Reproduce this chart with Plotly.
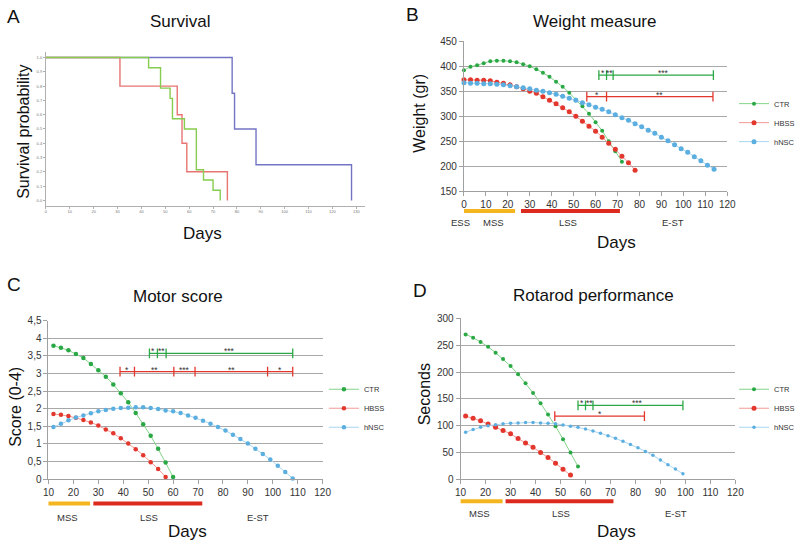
import plotly.graph_objects as go

# ---- A: survival (Kaplan-Meier steps) ----
surv_days_ctr = [0, 43, 48, 52, 53, 58, 63, 66, 70, 73]
surv_prob_ctr = [1, 0.929, 0.786, 0.714, 0.571, 0.5, 0.214, 0.143, 0.071, 0]
surv_days_hbss = [0, 31, 55, 57, 59, 76]
surv_prob_hbss = [1, 0.8, 0.6, 0.4, 0.2, 0]
surv_days_hnsc = [0, 78, 79, 88, 128]
surv_prob_hnsc = [1, 0.75, 0.5, 0.25, 0]

# ---- B: weight ----
w_days_ctr = list(range(0, 73, 3))
w_ctr = [392, 399, 402, 406, 410, 411, 411, 410, 408, 404, 400, 394, 387, 379, 369,
         359, 347, 333, 320, 305, 288, 271, 250, 230, 209]
w_days_hbss = list(range(0, 79, 3))
w_hbss = [373, 373, 372, 372, 371, 368, 366, 363, 359, 355, 350, 346, 339, 332, 325,
          317, 309, 300, 290, 280, 270, 258, 246, 234, 220, 207, 192]
w_days_hnsc = list(range(0, 115, 3))
w_hnsc = [367, 366, 366, 365, 365, 364, 363, 361, 359, 357, 355, 352, 350, 347, 344,
          340, 336, 332, 327, 323, 318, 314, 309, 303, 297, 292, 285, 279, 272, 266,
          258, 251, 243, 235, 228, 219, 211, 202, 194]

# ---- C: motor score ----
m_days_ctr = list(range(12, 61, 3))
m_ctr = [3.79, 3.73, 3.66, 3.55, 3.44, 3.27, 3.09, 2.91, 2.69, 2.44, 2.18, 1.88, 1.56,
         1.23, 0.86, 0.47, 0.06]
m_days_hbss = list(range(12, 58, 3))
m_hbss = [1.85, 1.83, 1.79, 1.74, 1.68, 1.61, 1.52, 1.41, 1.30, 1.16, 1.01, 0.85, 0.68,
          0.48, 0.29, 0.06]
m_days_hnsc = list(range(12, 109, 3))
m_hnsc = [1.48, 1.57, 1.67, 1.75, 1.81, 1.87, 1.93, 1.96, 2.00, 2.02, 2.03, 2.04, 2.04,
          2.02, 1.99, 1.95, 1.93, 1.88, 1.81, 1.74, 1.66, 1.57, 1.48, 1.38, 1.26, 1.14,
          1.01, 0.86, 0.71, 0.56, 0.38, 0.20, 0.02]

# ---- D: rotarod ----
r_days_ctr = list(range(12, 58, 3))
r_ctr = [270, 264, 256, 247, 236, 224, 211, 196, 179, 161, 142, 121, 99, 75, 50, 24]
r_days_hbss = list(range(12, 55, 3))
r_hbss = [118, 114, 109, 103, 97, 91, 85, 76, 68, 60, 50, 41, 30, 19, 8]
r_days_hnsc = list(range(12, 100, 3))
r_hnsc = [88, 93, 97, 100, 102, 103.5, 104.5, 105, 106, 106, 105, 104.5, 103.5, 101.5,
          99, 97, 94, 90, 86, 81.5, 76.5, 71, 65, 59, 52, 45, 36, 27.5, 19.5, 10.5]

# ---- significance bars: (level, tick days, star labels) ----
sig_b_ctr = (382, [61.5, 65, 68, 113.7], ["*", "**", "***"])
sig_b_hbss = (339, [56, 65, 113.5], ["*", "**"])
sig_c_ctr = (3.57, [50.5, 53.7, 57.2, 108], ["*", "**", "***"])
sig_c_hbss = (3.05, [38.7, 44.5, 60.3, 68.8, 97.9, 108], ["*", "**", "***", "**", "*"])
sig_d_ctr = (138, [57, 60, 63, 99], ["*", "**", "***"])
sig_d_hbss = (118, [47.7, 83.6], ["*"])

# ---- disease stages (start, end) in days ----
stages_b = [(0, 23.3), (26, 71.1)]
stages_c = [(9, 26.7), (28, 71.7)]
stages_d = [(9.1, 26.8), (28, 71.2)]
stage_labels_b = [("ESS", 463), ("MSS", 497), ("LSS", 573), ("E-ST", 680)]
stage_labels_c = [("MSS", 63), ("LSS", 146), ("E-ST", 257)]
stage_labels_d = [("MSS", 483), ("LSS", 566), ("E-ST", 683)]

W, H = 800, 548
FONT = "Arial, Liberation Sans, sans-serif"
GREEN_M, GREEN_L = "#2aa845", "#84d488"
RED_M, RED_L = "#e3362c", "#f29a94"
BLUE_M, BLUE_L = "#5aaee0", "#a8d5f2"
STAGE_COLS = ["#f5b51e", "#dc2a1e"]


def px(x):
    return x / W


def py(y):
    return 1 - y / H


fig = go.Figure()

# panel A
for d, p, c in [(surv_days_hnsc, surv_prob_hnsc, "#7474c4"),
                (surv_days_hbss, surv_prob_hbss, "#e87474"),
                (surv_days_ctr, surv_prob_ctr, "#86cc4e")]:
    fig.add_trace(go.Scatter(x=d, y=p, mode="lines", line=dict(color=c, width=1.4, shape="hv"),
                             showlegend=False, xaxis="x", yaxis="y", hoverinfo="skip"))


def add_series(ax, ay, leg, days, vals, name, mc, lc, ms):
    fig.add_trace(go.Scatter(x=days, y=vals, mode="lines+markers", name=name,
                             line=dict(color=lc, width=1), marker=dict(color=mc, size=ms),
                             xaxis=ax, yaxis=ay, legend=leg, cliponaxis=False))


def add_sig(ax, ay, sig, color):
    level, ticks, labels = sig
    fig.add_trace(go.Scatter(x=ticks, y=[level] * len(ticks), mode="lines+markers",
                             line=dict(color=color, width=1.3),
                             marker=dict(symbol="line-ns", size=7, line=dict(width=1.3, color=color)),
                             showlegend=False, xaxis=ax, yaxis=ay, hoverinfo="skip"))
    for i, lab in enumerate(labels):
        fig.add_annotation(x=(ticks[i] + ticks[i + 1]) / 2, y=level, xref=ax, yref=ay, text=lab,
                           showarrow=False, xanchor="center", yanchor="middle", yshift=2,
                           font=dict(size=8.5, color="#333", family=FONT))


# panel B
add_series("x2", "y2", "legend", w_days_ctr, w_ctr, "CTR", GREEN_M, GREEN_L, 4)
add_series("x2", "y2", "legend", w_days_hbss, w_hbss, "HBSS", RED_M, RED_L, 5)
add_series("x2", "y2", "legend", w_days_hnsc, w_hnsc, "hNSC", BLUE_M, BLUE_L, 5)
add_sig("x2", "y2", sig_b_ctr, GREEN_M)
add_sig("x2", "y2", sig_b_hbss, RED_M)

# panel C
add_series("x3", "y3", "legend2", m_days_ctr, m_ctr, "CTR", GREEN_M, GREEN_L, 4.5)
add_series("x3", "y3", "legend2", m_days_hbss, m_hbss, "HBSS", RED_M, RED_L, 4.5)
add_series("x3", "y3", "legend2", m_days_hnsc, m_hnsc, "hNSC", BLUE_M, BLUE_L, 4.5)
add_sig("x3", "y3", sig_c_ctr, GREEN_M)
add_sig("x3", "y3", sig_c_hbss, RED_M)

# panel D
add_series("x4", "y4", "legend3", r_days_ctr, r_ctr, "CTR", GREEN_M, GREEN_L, 4)
add_series("x4", "y4", "legend3", r_days_hbss, r_hbss, "HBSS", RED_M, RED_L, 5)
add_series("x4", "y4", "legend3", r_days_hnsc, r_hnsc, "hNSC", BLUE_M, BLUE_L, 3.5)
add_sig("x4", "y4", sig_d_ctr, GREEN_M)
add_sig("x4", "y4", sig_d_hbss, RED_M)

# stage bars under the x axes
for ax, stages, ypix in [("x2", stages_b, 209.5), ("x3", stages_c, 508.7), ("x4", stages_d, 506.3)]:
    for (s, e), col in zip(stages, STAGE_COLS):
        fig.add_shape(type="line", xref=ax, yref="paper", x0=s, x1=e, y0=py(ypix), y1=py(ypix),
                      line=dict(color=col, width=4))

for labels, ypix in [(stage_labels_b, 221.5), (stage_labels_c, 523.3), (stage_labels_d, 519.3)]:
    for txt, xp in labels:
        fig.add_annotation(x=px(xp), y=py(ypix), xref="paper", yref="paper", text=txt,
                           showarrow=False, xanchor="center", yanchor="middle",
                           font=dict(size=9.5, color="#333", family=FONT))

# titles, panel letters, axis titles
texts = [
    ("A", 8, 11, 19, 0), ("Survival", 177, 16, 17, 0),
    ("Survival probability", 18, 129, 16, -90), ("Days", 200, 233, 17, 0),
    ("B", 414, 9, 19, 0), ("Weight measure", 600, 16, 17, 0),
    ("Weight (gr)", 421, 110, 16, -90), ("Days", 622, 242, 17, 0),
    ("C", 8, 285, 19, 0), ("Motor score", 175, 297, 17, 0),
    ("Score (0-4)", 9, 410, 16, -90), ("Days", 185, 537, 17, 0),
    ("D", 422, 291, 19, 0), ("Rotarod performance", 599, 296, 17, 0),
    ("Seconds", 426, 397, 16, -90), ("Days", 622, 537, 17, 0),
]
for txt, xp, yp, size, ang in texts:
    fig.add_annotation(x=px(xp), y=py(yp), xref="paper", yref="paper", text=txt, textangle=ang,
                       showarrow=False, xanchor="center", yanchor="middle",
                       font=dict(size=size, color="#111", family=FONT))

axis_common = dict(showline=True, linecolor="#a0a0a0", linewidth=1, ticks="outside",
                   tickcolor="#a0a0a0", ticklen=4, zeroline=False,
                   tickfont=dict(size=10, color="#333", family=FONT))

grid_y = dict(showgrid=True, gridcolor="#a8a8a8", gridwidth=1)

fig.update_layout(
    width=W, height=H, margin=dict(l=0, r=0, t=0, b=0),
    paper_bgcolor="white", plot_bgcolor="white",
    font=dict(family=FONT),
    xaxis=dict(domain=[px(40.7), px(366)], range=[0, 133.7], tickvals=list(range(0, 131, 10)),
               showline=True, linecolor="#b0b0b0", ticks="outside", ticklen=2, tickcolor="#b0b0b0",
               showgrid=False, zeroline=False, tickfont=dict(size=4, color="#777")),
    yaxis=dict(domain=[py(204), py(46.7)], range=[-0.036, 1.041],
               tickvals=[i / 10 for i in range(11)],
               ticktext=["%.1f" % (i / 10) for i in range(11)],
               showline=True, linecolor="#b0b0b0", ticks="outside", ticklen=2, tickcolor="#b0b0b0",
               showgrid=False, zeroline=False, tickfont=dict(size=4, color="#777")),
    xaxis2=dict(domain=[px(466.7), px(735)], range=[0, 120], dtick=10, showgrid=False,
                anchor="y2", **axis_common),
    yaxis2=dict(domain=[py(189.3), py(36)], range=[150, 450], dtick=50, anchor="x2",
                **grid_y, **axis_common),
    xaxis3=dict(domain=[px(43.3), px(322.7)], range=[10, 120], dtick=10, showgrid=False,
                anchor="y3", **axis_common),
    yaxis3=dict(domain=[py(483.7), py(321.7)], range=[0, 4.5],
                tickvals=[i * 0.5 for i in range(10)],
                ticktext=[("%g" % (i * 0.5)).replace(".", ",") for i in range(10)],
                anchor="x3", **grid_y, **axis_common),
    xaxis4=dict(domain=[px(463.3), px(743.3)], range=[10, 120], dtick=10, showgrid=False,
                anchor="y4", **axis_common),
    yaxis4=dict(domain=[py(484), py(319.3)], range=[0, 300], dtick=50, anchor="x4",
                **grid_y, **axis_common),
)

legend_common = dict(xanchor="left", yanchor="top", bgcolor="rgba(0,0,0,0)", tracegroupgap=0,
                     font=dict(size=7.5, color="#333", family=FONT), itemwidth=30)
fig.update_layout(
    legend=dict(x=px(742), y=py(85), **legend_common),
    legend2=dict(x=px(324), y=py(377), **legend_common),
    legend3=dict(x=px(742), y=py(377), **legend_common),
)

# page body margin would shift the whole figure by 8px
fig.write_html("out.html", config={"displayModeBar": False},
               post_script="document.body.style.margin='0';")
